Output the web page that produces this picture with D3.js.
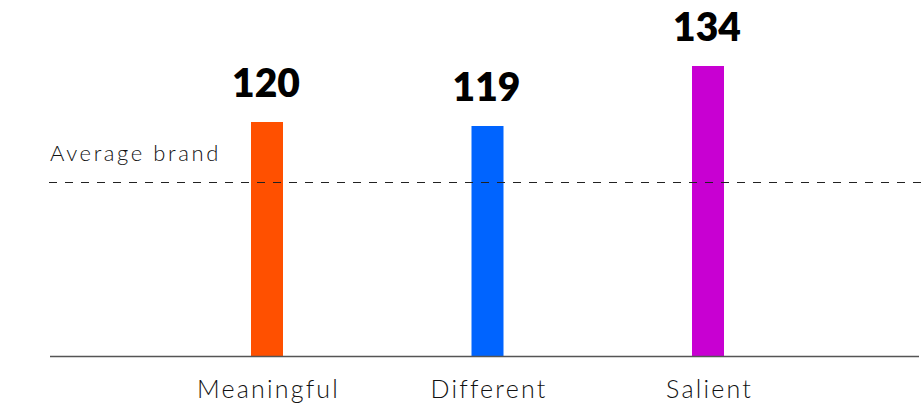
<!DOCTYPE html>
<html>
<head>
<meta charset="utf-8">
<script src="https://cdn.jsdelivr.net/npm/d3@7"></script>
<style>
  html, body { margin: 0; padding: 0; background: #fff; }
  svg { display: block; }
</style>
</head>
<body>
<svg id="chart" width="923" height="405"></svg>
<script>
// Brand equity index by dimension
const categories = ["Meaningful", "Different", "Salient"];
const values = [120, 119, 134];
const colors = ["#FF5000", "#0064FF", "#C800D2"];
const averageValue = 105;
const averageLabel = "Average brand";

const svg = d3.select("#chart");
const baseY = 356, left = 50, right = 919;

const x = d3.scalePoint().domain(categories).range([267, 708]);
const y = d3.scaleLinear().domain([61.5, 140]).range([baseY, 42]);
const barW = 32;

// bars
svg.selectAll("rect.bar").data(values).join("rect")
  .attr("class", "bar")
  .attr("x", (d, i) => x(categories[i]) - barW / 2)
  .attr("y", d => y(d))
  .attr("width", barW)
  .attr("height", d => baseY - y(d))
  .attr("fill", (d, i) => colors[i]);

// value labels
svg.selectAll("text.val").data(values).join("text")
  .attr("class", "val")
  .attr("x", (d, i) => x(categories[i]) - 1)
  .attr("y", d => y(d) - 25)
  .attr("text-anchor", "middle")
  .attr("font-family", "Lato, sans-serif")
  .attr("font-weight", 800)
  .attr("font-size", 39)
  .attr("fill", "#000")
  .text(d => d);

// category axis
const xAxis = d3.axisBottom(x).tickSize(0).tickPadding(0);
const gAxis = svg.append("g").attr("transform", `translate(0,${baseY})`).call(xAxis);
gAxis.select(".domain").remove();
gAxis.selectAll("text")
  .attr("dy", 0)
  .attr("y", 42)
  .attr("x", 1)
  .attr("font-family", "Lato, sans-serif")
  .attr("font-weight", 300)
  .attr("font-size", 25)
  .attr("letter-spacing", 2.2)
  .attr("fill", "#111");
svg.append("line")
  .attr("x1", left).attr("x2", right)
  .attr("y1", baseY + 0.5).attr("y2", baseY + 0.5)
  .attr("stroke", "#555").attr("stroke-width", 1.4);

// average reference line
svg.append("line")
  .attr("x1", 49).attr("x2", 921)
  .attr("y1", Math.round(y(averageValue)) + 0.5).attr("y2", Math.round(y(averageValue)) + 0.5)
  .attr("stroke", "#222").attr("stroke-width", 1)
  .attr("stroke-dasharray", "8,8");
svg.append("text")
  .attr("x", 50)
  .attr("y", y(averageValue) - 21)
  .attr("font-family", "Lato, sans-serif")
  .attr("font-weight", 300)
  .attr("font-size", 22)
  .attr("letter-spacing", 2.6)
  .attr("fill", "#111")
  .text(averageLabel);
</script>
</body>
</html>
